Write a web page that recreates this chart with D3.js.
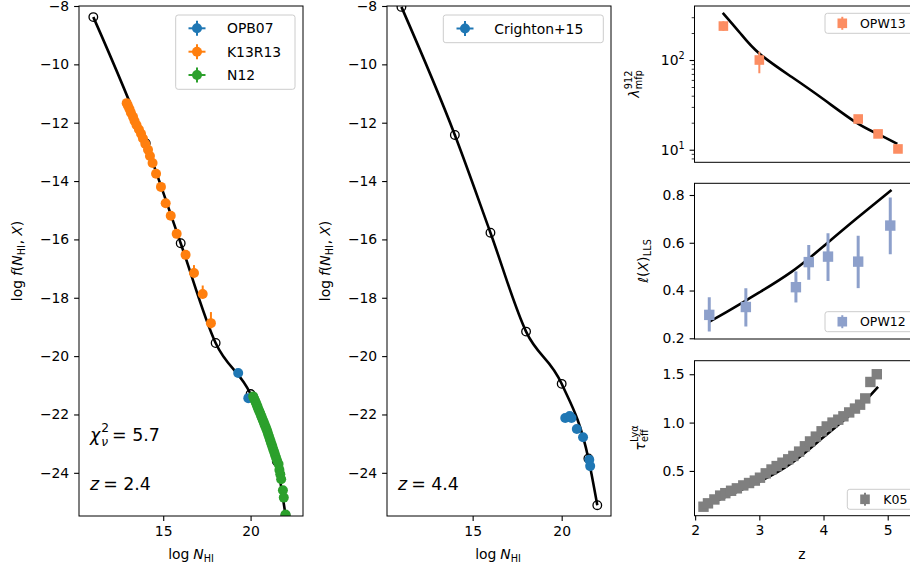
<!DOCTYPE html>
<html><head><meta charset="utf-8">
<script src="https://cdn.jsdelivr.net/npm/d3@7"></script>
<style>body{margin:0;background:#fff} text{font-family:"DejaVu Sans",sans-serif;fill:#000}</style>
</head><body><svg id="c" width="910" height="571" xmlns="http://www.w3.org/2000/svg"></svg>
<script>
// ---------------- DATA ----------------
const knotsN   = [11, 14, 16, 18, 20, 21.5, 22];
const knotsF24 = [-8.38, -12.70, -16.13, -19.55, -21.30, -23.60, -25.45];
const knotsF44 = [-8.03, -12.42, -15.77, -19.16, -20.95, -23.51, -25.11];

const opb07N = [19.29, 19.87];
const opb07F = [-20.58, -21.44];

const k13N = [12.91, 12.98, 13.07, 13.15, 13.27, 13.36, 13.47, 13.61, 13.73, 13.84, 13.98, 14.13, 14.24, 14.39, 14.59, 14.87, 15.14, 15.43, 15.77, 16.28, 16.76, 17.26, 17.73];
const k13F = [-11.33, -11.42, -11.53, -11.66, -11.80, -11.94, -12.08, -12.23, -12.38, -12.54, -12.73, -12.93, -13.14, -13.38, -13.75, -14.20, -14.76, -15.19, -15.81, -16.53, -17.15, -17.87, -18.87];
const k13ErrHi = [0.03, 0.03, 0.03, 0.03, 0.03, 0.03, 0.03, 0.03, 0.03, 0.04, 0.04, 0.04, 0.05, 0.05, 0.06, 0.06, 0.08, 0.08, 0.14, 0.12, 0.27, 0.29, 0.38];
const k13ErrLo = [0.03, 0.03, 0.03, 0.03, 0.03, 0.03, 0.03, 0.03, 0.03, 0.04, 0.04, 0.04, 0.05, 0.05, 0.06, 0.06, 0.08, 0.08, 0.10, 0.10, 0.15, 0.15, 0.18];

const n12N = [20.15, 20.20, 20.25, 20.30, 20.35, 20.40, 20.45, 20.50, 20.55, 20.60, 20.65, 20.70, 20.75, 20.80, 20.85, 20.90, 20.95, 21.00, 21.05, 21.10, 21.15, 21.20, 21.25, 21.30, 21.35, 21.40, 21.45, 21.50, 21.60, 21.65, 21.70, 21.75, 21.85, 21.90, 22.00];
const n12F = [-21.38, -21.45, -21.52, -21.59, -21.67, -21.74, -21.82, -21.89, -21.96, -22.04, -22.11, -22.19, -22.26, -22.34, -22.41, -22.49, -22.57, -22.66, -22.75, -22.84, -22.93, -23.02, -23.11, -23.20, -23.29, -23.38, -23.47, -23.56, -23.70, -23.90, -24.05, -24.22, -24.60, -24.85, -25.43];

const cr15N = [20.20, 20.45, 20.55, 20.85, 21.20, 21.55, 21.60];
const cr15F = [-22.12, -22.05, -22.12, -22.50, -22.78, -23.55, -23.77];

const mfpZ = [2.44, 3.00, 4.54, 4.85, 5.16];
const mfpVal = [239, 100, 22.0, 15.0, 10.2];
const mfpHi = [270, 124, 23.5, 16.0, 10.9];
const mfpLo = [212, 71, 20.5, 14.0, 9.5];
const mfpModelZ = [2.43, 2.7, 3.0, 3.5, 4.0, 4.5, 4.85, 5.15];
const mfpModelVal = [336, 200, 118, 65, 36.5, 20.3, 14.9, 11.6];

const llsZ = [2.22, 2.79, 3.57, 3.77, 4.07, 4.54, 5.04];
const llsVal = [0.298, 0.331, 0.414, 0.519, 0.542, 0.521, 0.672];
const llsHi = [0.372, 0.410, 0.480, 0.591, 0.640, 0.629, 0.790];
const llsLo = [0.228, 0.249, 0.350, 0.445, 0.440, 0.410, 0.552];
const llsModelZ = [2.21, 2.5, 2.79, 3.0, 3.5, 4.0, 4.5, 5.06];
const llsModelVal = [0.268, 0.312, 0.358, 0.392, 0.478, 0.585, 0.698, 0.821];

const tauZ = [2.13, 2.20, 2.30, 2.39, 2.47, 2.56, 2.65, 2.75, 2.84, 2.93, 3.01, 3.10, 3.19, 3.27, 3.36, 3.45, 3.53, 3.62, 3.71, 3.79, 3.88, 3.97, 4.05, 4.14, 4.23, 4.31, 4.40, 4.49, 4.57, 4.65, 4.73, 4.83];
const tauVal = [0.130, 0.165, 0.205, 0.245, 0.270, 0.295, 0.320, 0.350, 0.375, 0.400, 0.430, 0.475, 0.515, 0.550, 0.585, 0.620, 0.655, 0.700, 0.755, 0.805, 0.855, 0.910, 0.960, 1.000, 1.030, 1.065, 1.105, 1.145, 1.185, 1.250, 1.420, 1.500];
const tauModelZ = [2.10, 2.50, 3.00, 3.50, 4.00, 4.50, 4.85];
const tauModelVal = [0.12, 0.24, 0.39, 0.58, 0.85, 1.13, 1.37];

const fTicks = [-24, -22, -20, -18, -16, -14, -12, -10, -8];
const nTicks = [15, 20];
const zTicks = [2, 3, 4, 5];
const mfpTicks = [10, 100];
const mfpMinor = [8, 9, 20, 30, 40, 50, 60, 70, 80, 90, 200, 300];
const llsTicks = [0.2, 0.4, 0.6, 0.8];
const tauTicks = [0.5, 1.0, 1.5];

const C = {blue:'#1f77b4', orange:'#ff7f0e', green:'#2ca02c', salmon:'#fc8d62', lav:'#8da0cb', grey:'#7f7f7f'};
const FS = 13.9;

// ---------------- SETUP ----------------
const svg = d3.select('#c');
const defs = svg.append('defs');
function clip(id, x0, y0, x1, y1){
  defs.append('clipPath').attr('id', id).append('rect').attr('x', x0).attr('y', y0).attr('width', x1-x0).attr('height', y1-y0);
  return `url(#${id})`;
}
const x1s = d3.scaleLinear().domain([10.18, 23.0]).range([79, 303]);
const x2s = d3.scaleLinear().domain([10.19, 22.77]).range([387, 611]);
const yfs = d3.scaleLinear().domain([-25.48, -8]).range([516, 6]);
const xr = d3.scaleLinear().domain([1.99, 5.5]).range([694.5, 919.8]);
const ymfp = d3.scaleLog().domain([7.24, 400]).range([162.3, 6]);
const ylls = d3.scaleLinear().domain([0.197, 0.849]).range([339, 183.3]);
const ytau = d3.scaleLinear().domain([0.037, 1.64]).range([515.7, 360.7]);

function zip(a, b){ return a.map((v,i)=>[v, b[i]]); }

function yAxis(scale, x, ticks, fmt){
  const g = svg.append('g').attr('transform', `translate(${x},0)`)
    .call(d3.axisLeft(scale).tickValues(ticks).tickFormat(fmt).tickSize(4.9).tickPadding(4.9));
  g.select('.domain').remove();
  g.attr('font-family', 'DejaVu Sans').attr('font-size', FS);
  g.selectAll('line').attr('stroke-width', 1.1);
  return g;
}
function xAxis(scale, y, ticks, fmt){
  const g = svg.append('g').attr('transform', `translate(0,${y})`)
    .call(d3.axisBottom(scale).tickValues(ticks).tickFormat(fmt).tickSize(4.9).tickPadding(4.9));
  g.select('.domain').remove();
  g.attr('font-family', 'DejaVu Sans').attr('font-size', FS);
  g.selectAll('line').attr('stroke-width', 1.1);
  return g;
}
function frame(x0, y0, x1, y1){
  svg.append('rect').attr('x', x0).attr('y', y0).attr('width', x1-x0).attr('height', y1-y0)
    .attr('fill', 'none').attr('stroke', '#000').attr('stroke-width', 1);
}
function rich(x, y, pieces, opts={}){
  const g = svg.append('g');
  const inner = g.append('g');
  let cx = 0;
  pieces.forEach(p => {
    if (p.sup !== undefined || p.sub !== undefined){
      let w = 0;
      if (p.sup){ const t = inner.append('text').attr('x', cx).attr('y', -p.up).style('font-size', p.size+'px').style('font-style', p.supIt?'italic':'normal').text(p.sup); w = Math.max(w, t.node().getComputedTextLength()); }
      if (p.sub){ const t = inner.append('text').attr('x', cx).attr('y', p.down).style('font-size', p.size+'px').style('font-style', p.subIt?'italic':'normal').text(p.sub); w = Math.max(w, t.node().getComputedTextLength()); }
      cx += w + (p.gap||0);
    } else {
      const t = inner.append('text').attr('x', cx).attr('y', p.dy||0).style('font-size', (p.size||FS)+'px').style('font-style', p.it?'italic':'normal').text(p.t);
      cx += t.node().getComputedTextLength() + (p.gap||0);
    }
  });
  const off = opts.anchor==='middle' ? -cx/2 : 0;
  g.attr('transform', `translate(${x},${y}) rotate(${opts.rotate||0})`);
  inner.attr('transform', `translate(${off},0)`);
  return g;
}
const line = (xs, ys, curve) => d3.line().x(d=>xs(d[0])).y(d=>ys(d[1])).curve(curve || d3.curveMonotoneX);

function legendErrCircle(g, x, y, col){
  g.append('line').attr('x1', x-8.5).attr('x2', x+8.5).attr('y1', y).attr('y2', y).attr('stroke', col).attr('stroke-width', 2);
  g.append('line').attr('x1', x).attr('x2', x).attr('y1', y-7.5).attr('y2', y+7.5).attr('stroke', col).attr('stroke-width', 2);
  g.append('circle').attr('cx', x).attr('cy', y).attr('r', 5).attr('fill', col);
}
function legendErrSquare(g, x, y, col){
  g.append('line').attr('x1', x).attr('x2', x).attr('y1', y-6.5).attr('y2', y+6.5).attr('stroke', col).attr('stroke-width', 2);
  g.append('rect').attr('x', x-4.8).attr('y', y-4.8).attr('width', 9.6).attr('height', 9.6).attr('fill', col);
}
function legendBox(g, x0, y0, x1, y1){
  g.append('rect').attr('x', x0).attr('y', y0).attr('width', x1-x0).attr('height', y1-y0).attr('rx', 2.5)
   .attr('fill', 'rgba(255,255,255,0.8)').attr('stroke', '#cccccc').attr('stroke-width', 1);
}

// ---------------- PANEL 1 : z = 2.4 ----------------
{
  const g = svg.append('g').attr('clip-path', clip('c1', 79, 6, 303, 516));
  g.append('path').datum(zip(knotsN, knotsF24)).attr('d', line(x1s, yfs)).attr('fill','none').attr('stroke','#000').attr('stroke-width', 2.6);
  g.selectAll(null).data(zip(knotsN, knotsF24)).join('circle').attr('cx', d=>x1s(d[0])).attr('cy', d=>yfs(d[1])).attr('r', 4.3).attr('fill','none').attr('stroke','#000').attr('stroke-width', 1.3);
  g.selectAll(null).data(zip(opb07N, opb07F)).join('circle').attr('cx', d=>x1s(d[0])).attr('cy', d=>yfs(d[1])).attr('r', 5).attr('fill', C.blue);
  const kd = k13N.map((n,i)=>({n, f:k13F[i], hi:k13ErrHi[i], lo:k13ErrLo[i]}));
  g.selectAll(null).data(kd).join('line').attr('x1', d=>x1s(d.n)).attr('x2', d=>x1s(d.n)).attr('y1', d=>yfs(d.f+d.hi)).attr('y2', d=>yfs(d.f-d.lo)).attr('stroke', C.orange).attr('stroke-width', 2);
  g.selectAll(null).data(kd).join('circle').attr('cx', d=>x1s(d.n)).attr('cy', d=>yfs(d.f)).attr('r', 5).attr('fill', C.orange);
  g.selectAll(null).data(zip(n12N, n12F)).join('circle').attr('cx', d=>x1s(d[0])).attr('cy', d=>yfs(d[1])).attr('r', 5).attr('fill', C.green);
}
yAxis(yfs, 79, fTicks, d3.format('d'));
xAxis(x1s, 516, nTicks, d3.format('d'));
frame(79, 6, 303, 516);
rich(22, 261, [{t:'log', gap:4}, {t:'f', it:true}, {t:'('}, {t:'N', it:true}, {t:'HI', size:9.7, dy:3, gap:1}, {t:',', gap:4}, {t:'X', it:true}, {t:')'}], {anchor:'middle', rotate:-90});
rich(191, 559, [{t:'log', gap:4}, {t:'N', it:true}, {t:'HI', size:9.7, dy:3}], {anchor:'middle'});
rich(90, 441, [{t:'χ', it:true, size:17.4, gap:1}, {sup:'2', sub:'ν', subIt:true, size:12.2, up:9, down:5, gap:3}, {t:'= 5.7', size:17.4}]);
rich(90, 490, [{t:'z', it:true, size:17.4, gap:4}, {t:'= 2.4', size:17.4}]);
{
  const g = svg.append('g');
  legendBox(g, 175.7, 15, 295, 89.3);
  const items = [['OPB07', C.blue, 28.3], ['K13R13', C.orange, 51.7], ['N12', C.green, 75]];
  items.forEach(([t, c, y]) => {
    legendErrCircle(g, 197, y, c);
    g.append('text').attr('x', 227).attr('y', y+5).style('font-size', FS+'px').text(t);
  });
}

// ---------------- PANEL 2 : z = 4.4 ----------------
{
  const g = svg.append('g').attr('clip-path', clip('c2', 387, 6, 611, 516));
  g.append('path').datum(zip(knotsN, knotsF44)).attr('d', line(x2s, yfs)).attr('fill','none').attr('stroke','#000').attr('stroke-width', 2.6);
  g.selectAll(null).data(zip(knotsN, knotsF44)).join('circle').attr('cx', d=>x2s(d[0])).attr('cy', d=>yfs(d[1])).attr('r', 4.3).attr('fill','none').attr('stroke','#000').attr('stroke-width', 1.3);
  g.selectAll(null).data(zip(cr15N, cr15F)).join('circle').attr('cx', d=>x2s(d[0])).attr('cy', d=>yfs(d[1])).attr('r', 5).attr('fill', C.blue);
}
yAxis(yfs, 387, fTicks, d3.format('d'));
xAxis(x2s, 516, nTicks, d3.format('d'));
frame(387, 6, 611, 516);
rich(330, 261, [{t:'log', gap:4}, {t:'f', it:true}, {t:'('}, {t:'N', it:true}, {t:'HI', size:9.7, dy:3, gap:1}, {t:',', gap:4}, {t:'X', it:true}, {t:')'}], {anchor:'middle', rotate:-90});
rich(498, 559, [{t:'log', gap:4}, {t:'N', it:true}, {t:'HI', size:9.7, dy:3}], {anchor:'middle'});
rich(398, 490, [{t:'z', it:true, size:17.4, gap:4}, {t:'= 4.4', size:17.4}]);
{
  const g = svg.append('g');
  legendBox(g, 443.3, 15, 603.3, 42.7);
  legendErrCircle(g, 465, 28.5, C.blue);
  g.append('text').attr('x', 494.3).attr('y', 33.5).style('font-size', FS+'px').text('Crighton+15');
}

// ---------------- PANEL 3 : mfp ----------------
{
  const g = svg.append('g').attr('clip-path', clip('c3', 694.5, 6, 920, 162.3));
  g.append('path').datum(zip(mfpModelZ, mfpModelVal)).attr('d', line(xr, ymfp, d3.curveNatural)).attr('fill','none').attr('stroke','#000').attr('stroke-width', 2.6);
  const md = mfpZ.map((z,i)=>({z, v:mfpVal[i], hi:mfpHi[i], lo:mfpLo[i]}));
  g.selectAll(null).data(md).join('line').attr('x1', d=>xr(d.z)).attr('x2', d=>xr(d.z)).attr('y1', d=>ymfp(d.hi)).attr('y2', d=>ymfp(d.lo)).attr('stroke', C.salmon).attr('stroke-width', 2);
  g.selectAll(null).data(md).join('rect').attr('x', d=>xr(d.z)-4.8).attr('y', d=>ymfp(d.v)-4.8).attr('width', 9.6).attr('height', 9.6).attr('fill', C.salmon);
}
{
  const ga = yAxis(ymfp, 694.5, mfpTicks, d=>'');
  ga.selectAll('.tick text').each(function(d){
    const t = d3.select(this);
    t.append('tspan').text('10');
    t.append('tspan').attr('dy', -6).attr('font-size', 9.7).text(String(Math.round(Math.log10(d))));
  });
  const gm = svg.append('g').attr('transform', 'translate(694.5,0)')
    .call(d3.axisLeft(ymfp).tickValues(mfpMinor).tickFormat('').tickSize(2.8));
  gm.select('.domain').remove();
  gm.selectAll('line').attr('stroke-width', 0.8);
}
frame(694.5, 6, 925, 162.3);
rich(638.5, 84, [{t:'λ', it:true, gap:0.5}, {sup:'912', sub:'mfp', size:9.7, up:7, down:3}], {anchor:'middle', rotate:-90});
{
  const g = svg.append('g');
  legendBox(g, 825, 13.3, 918, 33.3);
  legendErrSquare(g, 842.3, 23.3, C.salmon);
  g.append('text').attr('x', 860).attr('y', 27.8).style('font-size', '12.5px').text('OPW13');
}

// ---------------- PANEL 4 : l(X) LLS ----------------
{
  const g = svg.append('g').attr('clip-path', clip('c4', 694.5, 183.3, 920, 339));
  g.append('path').datum(zip(llsModelZ, llsModelVal)).attr('d', line(xr, ylls, d3.curveNatural)).attr('fill','none').attr('stroke','#000').attr('stroke-width', 2.6);
  const ld = llsZ.map((z,i)=>({z, v:llsVal[i], hi:llsHi[i], lo:llsLo[i]}));
  g.selectAll(null).data(ld).join('line').attr('x1', d=>xr(d.z)).attr('x2', d=>xr(d.z)).attr('y1', d=>ylls(d.hi)).attr('y2', d=>ylls(d.lo)).attr('stroke', C.lav).attr('stroke-width', 3);
  g.selectAll(null).data(ld).join('rect').attr('x', d=>xr(d.z)-5.2).attr('y', d=>ylls(d.v)-5.2).attr('width', 10.4).attr('height', 10.4).attr('fill', C.lav);
}
yAxis(ylls, 694.5, llsTicks, d3.format('.1f'));
frame(694.5, 183.3, 925, 339);
rich(648, 261, [{t:'ℓ', it:true}, {t:'('}, {t:'X', it:true}, {t:')', gap:0.5}, {t:'LLS', size:9.7, dy:3}], {anchor:'middle', rotate:-90});
{
  const g = svg.append('g');
  legendBox(g, 825, 311.7, 918, 331.7);
  legendErrSquare(g, 842.3, 321.7, C.lav);
  g.append('text').attr('x', 860).attr('y', 326.2).style('font-size', '12.5px').text('OPW12');
}

// ---------------- PANEL 5 : tau_eff ----------------
{
  const g = svg.append('g').attr('clip-path', clip('c5', 694.5, 360.7, 920, 515.7));
  g.append('path').datum(zip(tauModelZ, tauModelVal)).attr('d', line(xr, ytau, d3.curveNatural)).attr('fill','none').attr('stroke','#000').attr('stroke-width', 2.6);
  g.selectAll(null).data(zip(tauZ, tauVal)).join('rect').attr('x', d=>xr(d[0])-5.2).attr('y', d=>ytau(d[1])-5.2).attr('width', 10.4).attr('height', 10.4).attr('fill', C.grey);
}
yAxis(ytau, 694.5, tauTicks, d3.format('.1f'));
xAxis(xr, 515.7, zTicks, d3.format('d'));
frame(694.5, 360.7, 925, 515.7);
rich(645, 438, [{t:'τ', it:true, gap:0.5}, {sup:'Lyα', sub:'eff', size:9.7, up:7, down:3}], {anchor:'middle', rotate:-90});
rich(802, 559, [{t:'z'}], {anchor:'middle'});
{
  const g = svg.append('g');
  legendBox(g, 847.3, 489.3, 918, 509.3);
  legendErrSquare(g, 865, 499.3, C.grey);
  g.append('text').attr('x', 883.3).attr('y', 503.8).style('font-size', '12.5px').text('K05');
}
</script>
</body></html>
